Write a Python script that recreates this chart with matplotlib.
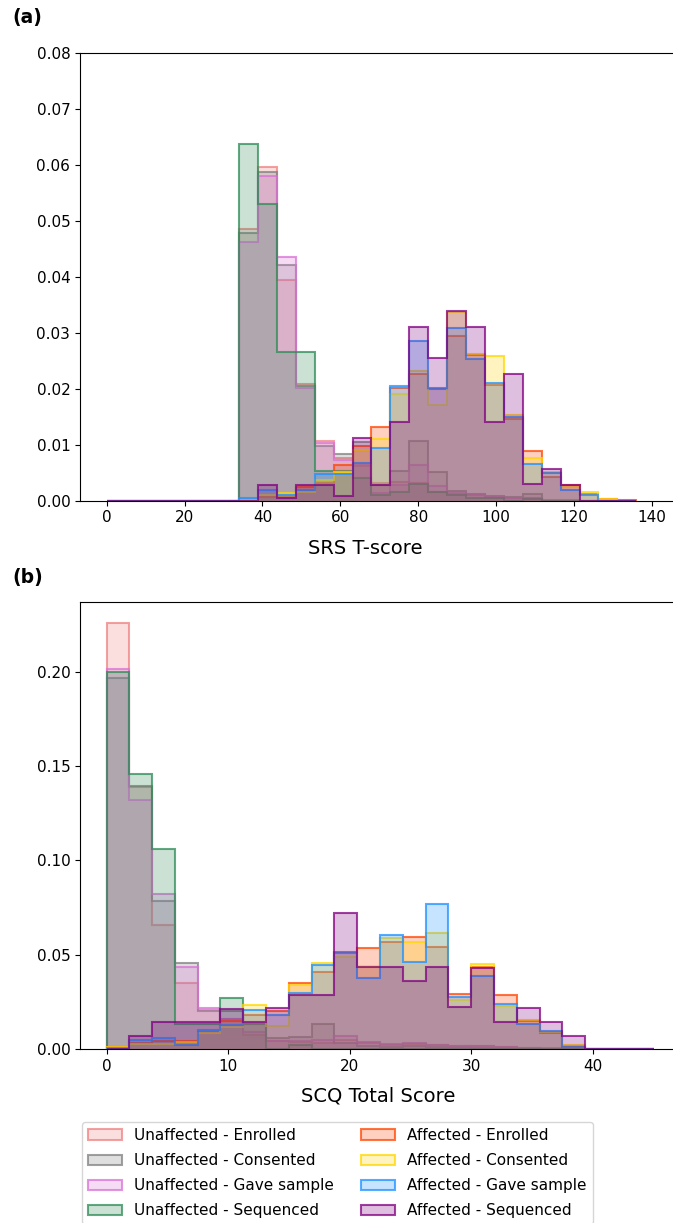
import numpy as np
import matplotlib
matplotlib.use("Agg")
import matplotlib.pyplot as plt
from matplotlib.colors import to_rgba
from matplotlib.patches import Patch

# bin edges
srs_bins = np.linspace(0, 136, 29)
scq_bins = np.linspace(0, 45, 25)

labels = ["Unaffected - Enrolled", "Unaffected - Consented", "Unaffected - Gave sample", "Unaffected - Sequenced",
          "Affected - Enrolled", "Affected - Consented", "Affected - Gave sample", "Affected - Sequenced"]
colors = ["lightcoral", "gray", "orchid", "seagreen", "orangered", "gold", "dodgerblue", "purple"]

# SRS T-score densities (28 bins)
srs_unaff_enrolled = [0, 0, 0, 0, 0, 0, 0, 0.0485, 0.0597, 0.0395, 0.0209, 0.0106, 0.0076, 0.0062, 0.0032, 0.0034,
                      0.0031, 0.0016, 0.0012, 0.0010, 0.0007, 0.0005, 0.0004, 0.0002, 0.0001, 0, 0, 0]
srs_unaff_consented = [0, 0, 0, 0, 0, 0, 0, 0.0478, 0.0587, 0.0421, 0.0205, 0.0098, 0.0083, 0.0105, 0.0028, 0.0053,
                       0.0106, 0.0052, 0.0017, 0.0012, 0.0008, 0.0006, 0.0012, 0, 0, 0, 0, 0]
srs_unaff_sample = [0, 0, 0, 0, 0, 0, 0, 0.0463, 0.0581, 0.0436, 0.0202, 0.0103, 0.0073, 0.0064, 0.0013, 0.0028,
                    0.0064, 0.0026, 0.0013, 0.0010, 0.0006, 0.0004, 0.0004, 0, 0, 0, 0, 0]
srs_unaff_sequenced = [0, 0, 0, 0, 0, 0, 0, 0.0637, 0.0531, 0.0265, 0.0265, 0.0053, 0.0053, 0.0040, 0.0010, 0.0016,
                       0.0030, 0.0016, 0.0010, 0.0005, 0.0005, 0, 0.0003, 0, 0, 0, 0, 0]
srs_aff_enrolled = [0, 0, 0, 0, 0, 0, 0, 0.0002, 0.0007, 0.0006, 0.0024, 0.0031, 0.0064, 0.0097, 0.0131, 0.0201,
                    0.0227, 0.0199, 0.0294, 0.0260, 0.0207, 0.0146, 0.0089, 0.0043, 0.0028, 0.0012, 0.0003, 0.0002]
srs_aff_consented = [0, 0, 0, 0, 0, 0, 0, 0.0002, 0.0010, 0.0014, 0.0016, 0.0037, 0.0052, 0.0090, 0.0110, 0.0190,
                     0.0232, 0.0172, 0.0337, 0.0263, 0.0259, 0.0153, 0.0076, 0.0052, 0.0024, 0.0016, 0.0003, 0]
srs_aff_sample = [0, 0, 0, 0, 0, 0, 0, 0.0004, 0.0019, 0.0010, 0.0019, 0.0047, 0.0047, 0.0068, 0.0094, 0.0205,
                  0.0286, 0.0201, 0.0308, 0.0253, 0.0211, 0.0150, 0.0066, 0.0050, 0.0019, 0.0010, 0, 0]
srs_aff_sequenced = [0, 0, 0, 0, 0, 0, 0, 0, 0.0028, 0.0004, 0.0028, 0.0028, 0.0008, 0.0113, 0.0028, 0.0141,
                     0.0311, 0.0255, 0.0340, 0.0311, 0.0141, 0.0227, 0.0029, 0.0056, 0.0028, 0, 0, 0]

# SCQ total score densities (24 bins)
scq_unaff_enrolled = [0.2260, 0.1388, 0.0655, 0.0351, 0.0205, 0.0160, 0.0074, 0.0040, 0.0039, 0.0030, 0.0048, 0.0030,
                      0.0020, 0.0025, 0.0020, 0.0015, 0.0015, 0.0010, 0.0005, 0.0003, 0, 0, 0, 0]
scq_unaff_consented = [0.1969, 0.1395, 0.0787, 0.0455, 0.0204, 0.0200, 0.0130, 0.0060, 0.0062, 0.0133, 0.0030, 0.0015,
                       0.0010, 0.0015, 0.0010, 0.0010, 0.0005, 0.0005, 0, 0, 0, 0, 0, 0]
scq_unaff_sample = [0.2013, 0.1318, 0.0820, 0.0436, 0.0217, 0.0157, 0.0090, 0.0045, 0.0045, 0.0050, 0.0069, 0.0035,
                    0.0025, 0.0030, 0.0021, 0.0016, 0.0016, 0.0012, 0.0005, 0, 0, 0, 0, 0]
scq_unaff_sequenced = [0.1998, 0.1459, 0.1061, 0.0135, 0.0135, 0.0268, 0.0135, 0, 0.0020, 0, 0, 0,
                       0, 0, 0, 0, 0, 0, 0, 0, 0, 0, 0, 0]
scq_aff_enrolled = [0.0010, 0.0030, 0.0045, 0.0045, 0.0090, 0.0150, 0.0180, 0.0200, 0.0352, 0.0410, 0.0516, 0.0534,
                    0.0566, 0.0596, 0.0539, 0.0290, 0.0433, 0.0286, 0.0150, 0.0083, 0.0015, 0, 0, 0]
scq_aff_consented = [0.0012, 0.0024, 0.0027, 0.0035, 0.0084, 0.0116, 0.0233, 0.0124, 0.0339, 0.0456, 0.0488, 0.0440,
                     0.0586, 0.0567, 0.0613, 0.0260, 0.0451, 0.0228, 0.0154, 0.0090, 0.0021, 0, 0, 0]
scq_aff_sample = [0.0005, 0.0050, 0.0057, 0.0019, 0.0101, 0.0128, 0.0207, 0.0180, 0.0295, 0.0445, 0.0508, 0.0378,
                  0.0606, 0.0460, 0.0767, 0.0277, 0.0389, 0.0239, 0.0131, 0.0095, 0.0012, 0, 0, 0]
scq_aff_sequenced = [0, 0.0070, 0.0143, 0.0143, 0.0143, 0.0214, 0.0145, 0.0216, 0.0286, 0.0288, 0.0719, 0.0433,
                     0.0433, 0.0361, 0.0433, 0.0224, 0.0428, 0.0145, 0.0216, 0.0145, 0.0071, 0, 0, 0]

srs_series = [srs_unaff_enrolled, srs_unaff_consented, srs_unaff_sample, srs_unaff_sequenced,
              srs_aff_enrolled, srs_aff_consented, srs_aff_sample, srs_aff_sequenced]
scq_series = [scq_unaff_enrolled, scq_unaff_consented, scq_unaff_sample, scq_unaff_sequenced,
              scq_aff_enrolled, scq_aff_consented, scq_aff_sample, scq_aff_sequenced]

FILL_A = 0.25
EDGE_A = 0.75

fig = plt.figure(figsize=(6.73, 12.23), dpi=100)
W, H = 673, 1223

def add_ax(left, top, right, bottom):
    return fig.add_axes([left / W, 1 - bottom / H, (right - left) / W, (bottom - top) / H])

ax1 = add_ax(80, 53.3, 690, 500.7)
ax2 = add_ax(80, 601.7, 690, 1049)

for ax, edges, series in [(ax1, srs_bins, srs_series), (ax2, scq_bins, scq_series)]:
    for vals, c in zip(series, colors):
        ax.stairs(vals, edges, fill=True, baseline=0,
                  facecolor=to_rgba(c, FILL_A), edgecolor=to_rgba(c, EDGE_A), linewidth=1.5)
    ax.tick_params(labelsize=11)

# panel a
ax1.set_xlim(-6.86, 149.8)
ax1.set_ylim(0, 0.08)
ax1.set_xticks(np.arange(0, 141, 20))
ax1.set_yticks(np.arange(0, 0.081, 0.01))
ax1.set_yticklabels(["%.2f" % v for v in np.arange(0, 0.081, 0.01)])
fig.text(365 / W, 1 - 548 / H, "SRS T-score", fontsize=14, ha="center", va="center")
fig.text(12 / W, 1 - 18 / H, "(a)", fontsize=13.5, fontweight="bold", ha="left", va="center")

# panel b
ax2.set_xlim(-2.18, 48.0)
ax2.set_ylim(0, 0.2372)
ax2.set_xticks([0, 10, 20, 30, 40])
ax2.set_yticks([0, 0.05, 0.10, 0.15, 0.20])
ax2.set_yticklabels(["0.00", "0.05", "0.10", "0.15", "0.20"])
fig.text(378 / W, 1 - 1096 / H, "SCQ Total Score", fontsize=14, ha="center", va="center")
fig.text(12 / W, 1 - 578 / H, "(b)", fontsize=13.5, fontweight="bold", ha="left", va="center")

handles = [Patch(facecolor=to_rgba(c, FILL_A), edgecolor=to_rgba(c, EDGE_A), linewidth=1.5) for c in colors]
fig.legend(handles, labels, ncol=2, loc="upper left", bbox_to_anchor=(82 / W, 1 - 1122 / H),
           fontsize=11, handlelength=2.2, columnspacing=1.8, labelspacing=0.66,
           borderaxespad=0, frameon=True)

fig.savefig("out.png", dpi=100)
